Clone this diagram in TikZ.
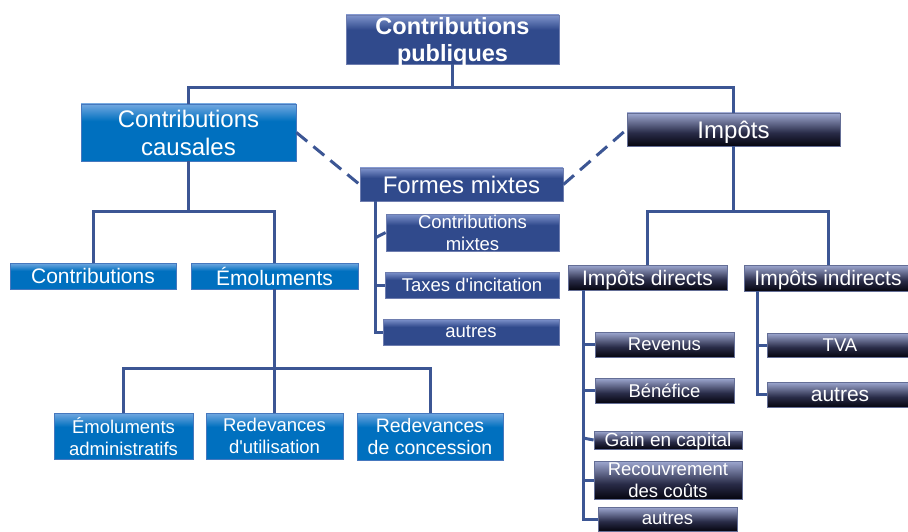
\documentclass[tikz,border=0pt]{standalone}
\usepackage{fontspec}
\setmainfont{Liberation Sans}
\pgfdeclareverticalshading{shblue}{100bp}{rgb(0bp)=(0,0.44,0.75); rgb(60bp)=(0,0.44,0.75); rgb(75bp)=(0.45,0.66,0.88); rgb(100bp)=(0.45,0.66,0.88)}
\pgfdeclareverticalshading{shnavy}{100bp}{rgb(0bp)=(0.19,0.29,0.55); rgb(60bp)=(0.19,0.29,0.55); rgb(75bp)=(0.5,0.58,0.8); rgb(100bp)=(0.5,0.58,0.8)}
\pgfdeclareverticalshading{shblack}{100bp}{rgb(0bp)=(0.02,0.02,0.06); rgb(25bp)=(0.02,0.02,0.06); rgb(45bp)=(0.16,0.17,0.28); rgb(75bp)=(0.62,0.66,0.82); rgb(100bp)=(0.62,0.66,0.82)}
\definecolor{lineblue}{RGB}{60,86,148}
\definecolor{bordblue}{RGB}{70,120,190}
\definecolor{bordnavy}{RGB}{110,125,175}
\definecolor{bordblack}{RGB}{100,110,150}
\begin{document}
\begin{tikzpicture}[x=1pt,y=-1pt,
  bx/.style={text=white, inner sep=0pt, align=center, line width=0.8pt, text depth=0pt},
  bblue/.style={bx, shade, shading=shblue, draw=bordblue},
  bnavy/.style={bx, shade, shading=shnavy, draw=bordnavy},
  bblack/.style={bx, shade, shading=shblack, draw=bordblack},
  wh/.style 2 args={minimum width=#1pt, minimum height=#2pt},
  fbig/.style={font=\fontsize{24}{28}\selectfont},
  fmid/.style={font=\fontsize{21}{25}\selectfont},
  fsm/.style={font=\fontsize{18.5}{22}\selectfont},
  conn/.style={draw=lineblue, line width=3pt},
  dconn/.style={conn, dash pattern=on 14pt off 8pt}]
\useasboundingbox[fill=white] (0,0) rectangle (908,532);

% nodes
\node[bnavy, wh={213}{49}, font=\bfseries\fontsize{23.5}{27}\selectfont] (top) at (452.5,39.5) {Contributions\\publiques};
\node[bblue, wh={215}{57}, fbig] (caus) at (188.5,132.5) {Contributions\\causales};
\node[bblack, wh={213}{33}, fbig] (imp) at (733.5,129.5) {Impôts};
\node[bnavy, wh={203}{33}, fbig] (form) at (461.5,184.5) {Formes mixtes};
\node[bnavy, wh={173}{37}, font=\fontsize{18.5}{22}\selectfont] (cmix) at (472.5,232.5) {Contributions\\mixtes};
\node[bnavy, wh={174}{26}, fsm] (tax) at (472,285) {Taxes d\textquotesingle incitation};
\node[bnavy, wh={176}{26}, fsm] (faut) at (471,332) {autres};
\node[bblue, wh={166}{26}, fmid] (contr) at (93,276) {Contributions};
\node[bblue, wh={167}{26}, fmid] (emol) at (274.5,276) {Émoluments};
\node[bblue, wh={139}{46}, fsm] (emadm) at (123.5,436) {Émoluments\\administratifs};
\node[bblue, wh={137}{46}, fsm] (rutil) at (274.5,436) {Redevances\\d\textquotesingle utilisation};
\node[bblue, wh={146}{47}, font=\fontsize{19.5}{22}\selectfont] (rconc) at (430,436.5) {Redevances\\de concession};
\node[bblack, wh={159}{25}, fmid] (idir) at (647.5,277.5) {Impôts directs};
\node[bblack, wh={168}{26}, fmid] (iind) at (828,278) {Impôts indirects};
\node[bblack, wh={139}{25}, fsm] (rev) at (664.5,344.5) {Revenus};
\node[bblack, wh={139}{25}, fsm] (ben) at (664.5,390.5) {Bénéfice};
\node[bblack, wh={148}{18}, font=\fontsize{19}{22}\selectfont] (gain) at (668,440) {Gain en capital};
\node[bblack, wh={148}{38}, fsm] (rec) at (668,480) {Recouvrement\\des coûts};
\node[bblack, wh={139}{24}, fsm] (daut) at (667.5,519) {autres};
\node[bblack, wh={146}{24}, fsm] (tva) at (840,345) {TVA};
\node[bblack, wh={146}{25}, font=\fontsize{21}{24}\selectfont] (iaut) at (840,394.5) {autres};

% connectors
\coordinate (j1) at (452.5,88);
\draw[conn] (top.south) -- (j1);
\draw[conn] (caus.north) |- (j1) -| (imp.north);

\draw[dconn] (caus.east) -- (form.west);
\draw[dconn] (form.east) -- (imp.west);

\coordinate (j2) at (188.5,211);
\draw[conn] (caus.south) -- (j2);
\draw[conn] (contr.north) |- (j2) -| (emol.north);

\coordinate (j3) at (274.5,368);
\draw[conn] (emol.south) -- (j3);
\draw[conn] (emadm.north) |- (j3) -| (rconc.north);
\draw[conn] (j3) -- (rutil.north);

\coordinate (j4) at (733.5,211);
\draw[conn] (imp.south) -- (j4);
\draw[conn] (idir.north) |- (j4) -| (iind.north);

% formes mixtes branches
\coordinate (fs) at (375,200.5);
\coordinate (fc) at (375,238);
\draw[conn] (fs) |- (faut.west);
\draw[conn] (fc) -- (cmix.west);
\draw[conn] (fs |- tax.west) -- (tax.west);

% impots directs branches
\coordinate (ds) at (583,290);
\coordinate (dg) at (583,438);
\draw[conn] (ds) |- (daut.west);
\draw[conn] (ds |- rev.west) -- (rev.west);
\draw[conn] (ds |- ben.west) -- (ben.west);
\draw[conn] (dg) -- (gain.west);
\draw[conn] (ds |- rec.west) -- (rec.west);

% impots indirects branches
\coordinate (is) at (757,291);
\draw[conn] (is) |- (iaut.west);
\draw[conn] (is |- tva.west) -- (tva.west);
\end{tikzpicture}
\end{document}
